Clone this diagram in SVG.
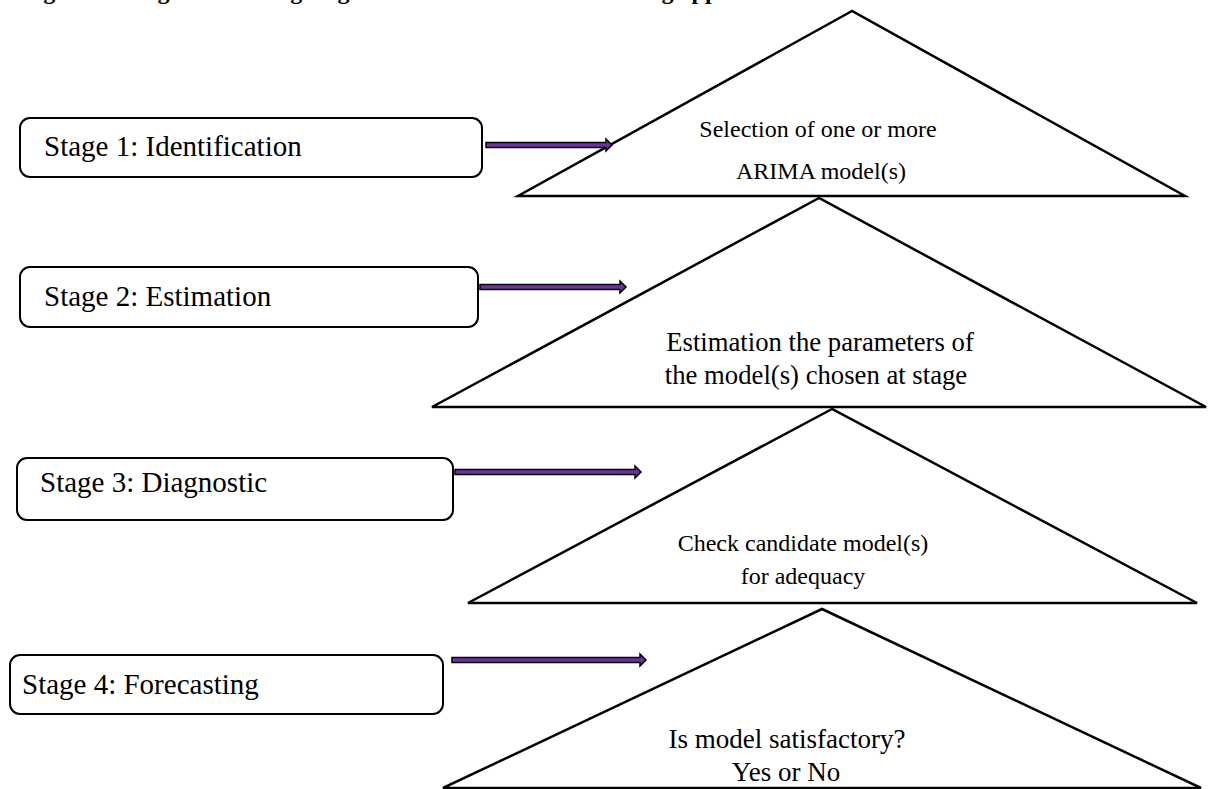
<svg xmlns="http://www.w3.org/2000/svg" width="1218" height="789" viewBox="0 0 1218 789">
<style>
.box{fill:#fff;stroke:#000;stroke-width:2}
.tri{fill:#fff;stroke:#000;stroke-width:2.5;stroke-linejoin:miter}
.lbl{font-family:"Liberation Serif","Times New Roman",serif;font-size:29px;fill:#000}
.tt{font-family:"Liberation Serif","Times New Roman",serif;font-size:24px;fill:#000;text-anchor:middle}
.t2{font-size:26.7px}
.t4{font-size:27px}
.arr{fill:#7030A0;stroke:#000;stroke-width:1.5;stroke-linejoin:miter}
.title{font-family:"Liberation Serif","Times New Roman",serif;font-size:24px;font-weight:bold;fill:#000}
</style>
<rect width="1218" height="789" fill="#fff"/>
<text class="title" x="22" y="-1">Figure 1: Diagram showing stages of the Box-Jenkins modelling approach</text>
<g id="tri1"><polygon class="tri" points="852,11 518,196 1185,196"/>
<text class="tt" x="818" y="137">Selection of one or more</text>
<text class="tt" x="821" y="179">ARIMA model(s)</text></g>
<g id="tri2"><polygon class="tri" points="819,198 432,407 1206,407"/>
<text class="tt t2" x="820" y="351">Estimation the parameters of</text>
<text class="tt t2" x="816" y="384">the model(s) chosen at stage</text></g>
<g id="tri3"><polygon class="tri" points="832,409 468,603 1197,603"/>
<text class="tt" x="803" y="551">Check candidate model(s)</text>
<text class="tt" x="803" y="584">for adequacy</text></g>
<g id="tri4"><polygon class="tri" points="822,609 443,788 1201,788"/>
<text class="tt t4" x="787" y="748">Is model satisfactory?</text>
<text class="tt t4" x="786" y="781">Yes or No</text></g>
<g id="stage1"><rect class="box" x="20" y="118" width="462" height="59" rx="10"/>
<text class="lbl" x="44" y="156">Stage 1: Identification</text></g>
<g id="stage2"><rect class="box" x="20" y="267" width="458" height="60" rx="10"/>
<text class="lbl" x="44" y="306">Stage 2: Estimation</text></g>
<g id="stage3"><rect class="box" x="17" y="458" width="436" height="62" rx="10"/>
<text class="lbl" x="40" y="492">Stage 3: Diagnostic</text></g>
<g id="stage4"><rect class="box" x="10" y="655" width="433" height="59" rx="10"/>
<text class="lbl" x="22" y="694">Stage 4: Forecasting</text></g>
<g id="connectors">
<path class="arr" d="M486,142.5 H606 V139 L612,145 L606,151 V147.5 H486 Z"/>
<path class="arr" d="M480,284.5 H620 V281 L626,287 L620,293 V289.5 H480 Z"/>
<path class="arr" d="M455,469.5 H635 V466 L641,472 L635,478 V474.5 H455 Z"/>
<path class="arr" d="M452,657.5 H640 V654 L646,660 L640,666 V662.5 H452 Z"/>
</g>
</svg>
